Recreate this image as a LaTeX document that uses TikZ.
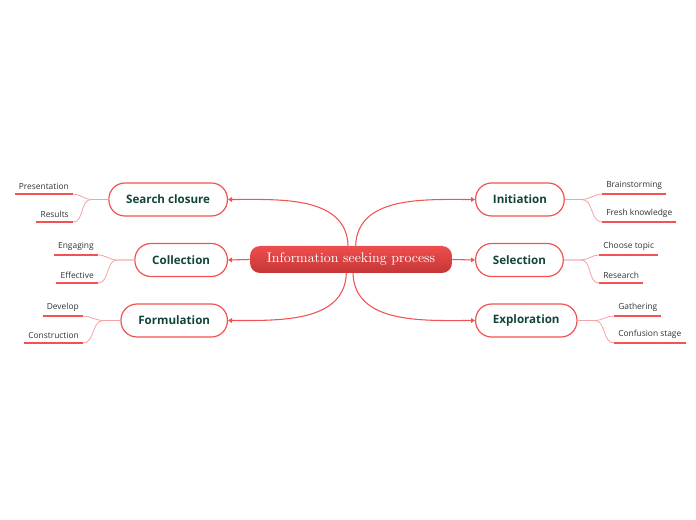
\documentclass[tikz,border=0pt]{standalone}
\usepackage{fontspec}
\newfontfamily\mapsans{Open Sans}
\usetikzlibrary{arrows.meta}
\definecolor{mapred}{HTML}{F25252}
\definecolor{roottop}{HTML}{EE4E4E}
\definecolor{rootbottom}{HTML}{C53636}
\definecolor{topicgreen}{HTML}{12443A}
\definecolor{twigred}{HTML}{F4A2A2}
\definecolor{leaftext}{HTML}{333333}
\tikzset{
  root/.style={rounded corners=7.5pt, top color=roottop, bottom color=rootbottom, draw=none,
    text=white, font=\fontsize{10.4}{12}\selectfont, minimum width=151.5pt, minimum height=20.25pt, inner sep=0pt},
  topic/.style={draw=mapred, line width=0.9pt, fill=white, rounded corners=12pt, text=topicgreen,
    font=\mapsans\bfseries\fontsize{8.7}{10}\selectfont, minimum height=24.75pt, inner xsep=13pt},
  leaf/.style={text=leaftext, font=\mapsans\fontsize{6.3}{7}\selectfont, inner xsep=3pt, inner ysep=3.2pt},
  leafline/.style={draw=mapred, line width=1.5pt},
  branch/.style={draw=mapred, line width=0.8pt, -{Triangle[length=3pt,width=3.5pt]}},
  twig/.style={draw=twigred, line width=0.6pt},
}
\begin{document}
\begin{tikzpicture}[x=0.75pt,y=0.75pt]
    \useasboundingbox (0,0) rectangle (696,-520);
    % central topic
    \node[root] (root) at (351,-259.5) {Information seeking process};
    % main topics, left side
    \node[topic, anchor=east] (sc) at (228,-199.5) {Search closure};
    \node[topic, anchor=east] (co) at (228,-260) {Collection};
    \node[topic, anchor=east] (fo) at (228,-320.5) {Formulation};
    % main topics, right side
    \node[topic, anchor=west] (in) at (475,-199.5) {Initiation};
    \node[topic, anchor=west] (se) at (475,-260) {Selection};
    \node[topic, anchor=west] (ex) at (475,-320.5) {Exploration};
    % subtopics
    \node[leaf, anchor=south east] (sc1) at (73,-194) {Presentation};
    \node[leaf, anchor=south east] (sc2) at (73,-222) {Results};
    \node[leaf, anchor=south east] (co1) at (98,-255) {Engaging};
    \node[leaf, anchor=south east] (co2) at (98,-283) {Effective};
    \node[leaf, anchor=south east] (fo1) at (83,-316) {Develop};
    \node[leaf, anchor=south east] (fo2) at (83,-343) {Construction};
    \node[leaf, anchor=south west] (in1) at (602,-194) {Brainstorming};
    \node[leaf, anchor=south west] (in2) at (602,-222) {Fresh knowledge};
    \node[leaf, anchor=south west] (se1) at (599,-255) {Choose topic};
    \node[leaf, anchor=south west] (se2) at (599,-283) {Research};
    \node[leaf, anchor=south west] (ex1) at (614,-316) {Gathering};
    \node[leaf, anchor=south west] (ex2) at (614,-343) {Confusion stage};
    \foreach \n in {sc1,sc2,co1,co2,fo1,fo2,in1,in2,se1,se2,ex1,ex2}
        \draw[leafline] (\n.south west) -- (\n.south east);
    % branches
    \draw[branch] ([xshift=-2.2pt]root.north) to[out=92,in=0] (sc.east);
    \draw[branch] ([xshift=3.5pt]root.north) to[out=88,in=180] (in.west);
    \draw[branch] ([xshift=-3.5pt]root.south) to[out=-92,in=0] (fo.east);
    \draw[branch] ([xshift=1.5pt]root.south) to[out=-88,in=180] (ex.west);
    \draw[branch] (root.west) -- (co.east);
    \draw[branch] (root.east) -- (se.west);
    % twigs
    \foreach \t/\a/\b in {sc/sc1/sc2,co/co1/co2,fo/fo1/fo2} {
        \draw[twig] (\t.west) -- ++(-17,0) to[out=180,in=0] (\a.south east);
        \draw[twig] (\t.west) -- ++(-17,0) to[out=180,in=0] (\b.south east);
    }
    \foreach \t/\a/\b in {in/in1/in2,se/se1/se2,ex/ex1/ex2} {
        \draw[twig] (\t.east) -- ++(17,0) to[out=0,in=180] (\a.south west);
        \draw[twig] (\t.east) -- ++(17,0) to[out=0,in=180] (\b.south west);
    }
\end{tikzpicture}
\end{document}
